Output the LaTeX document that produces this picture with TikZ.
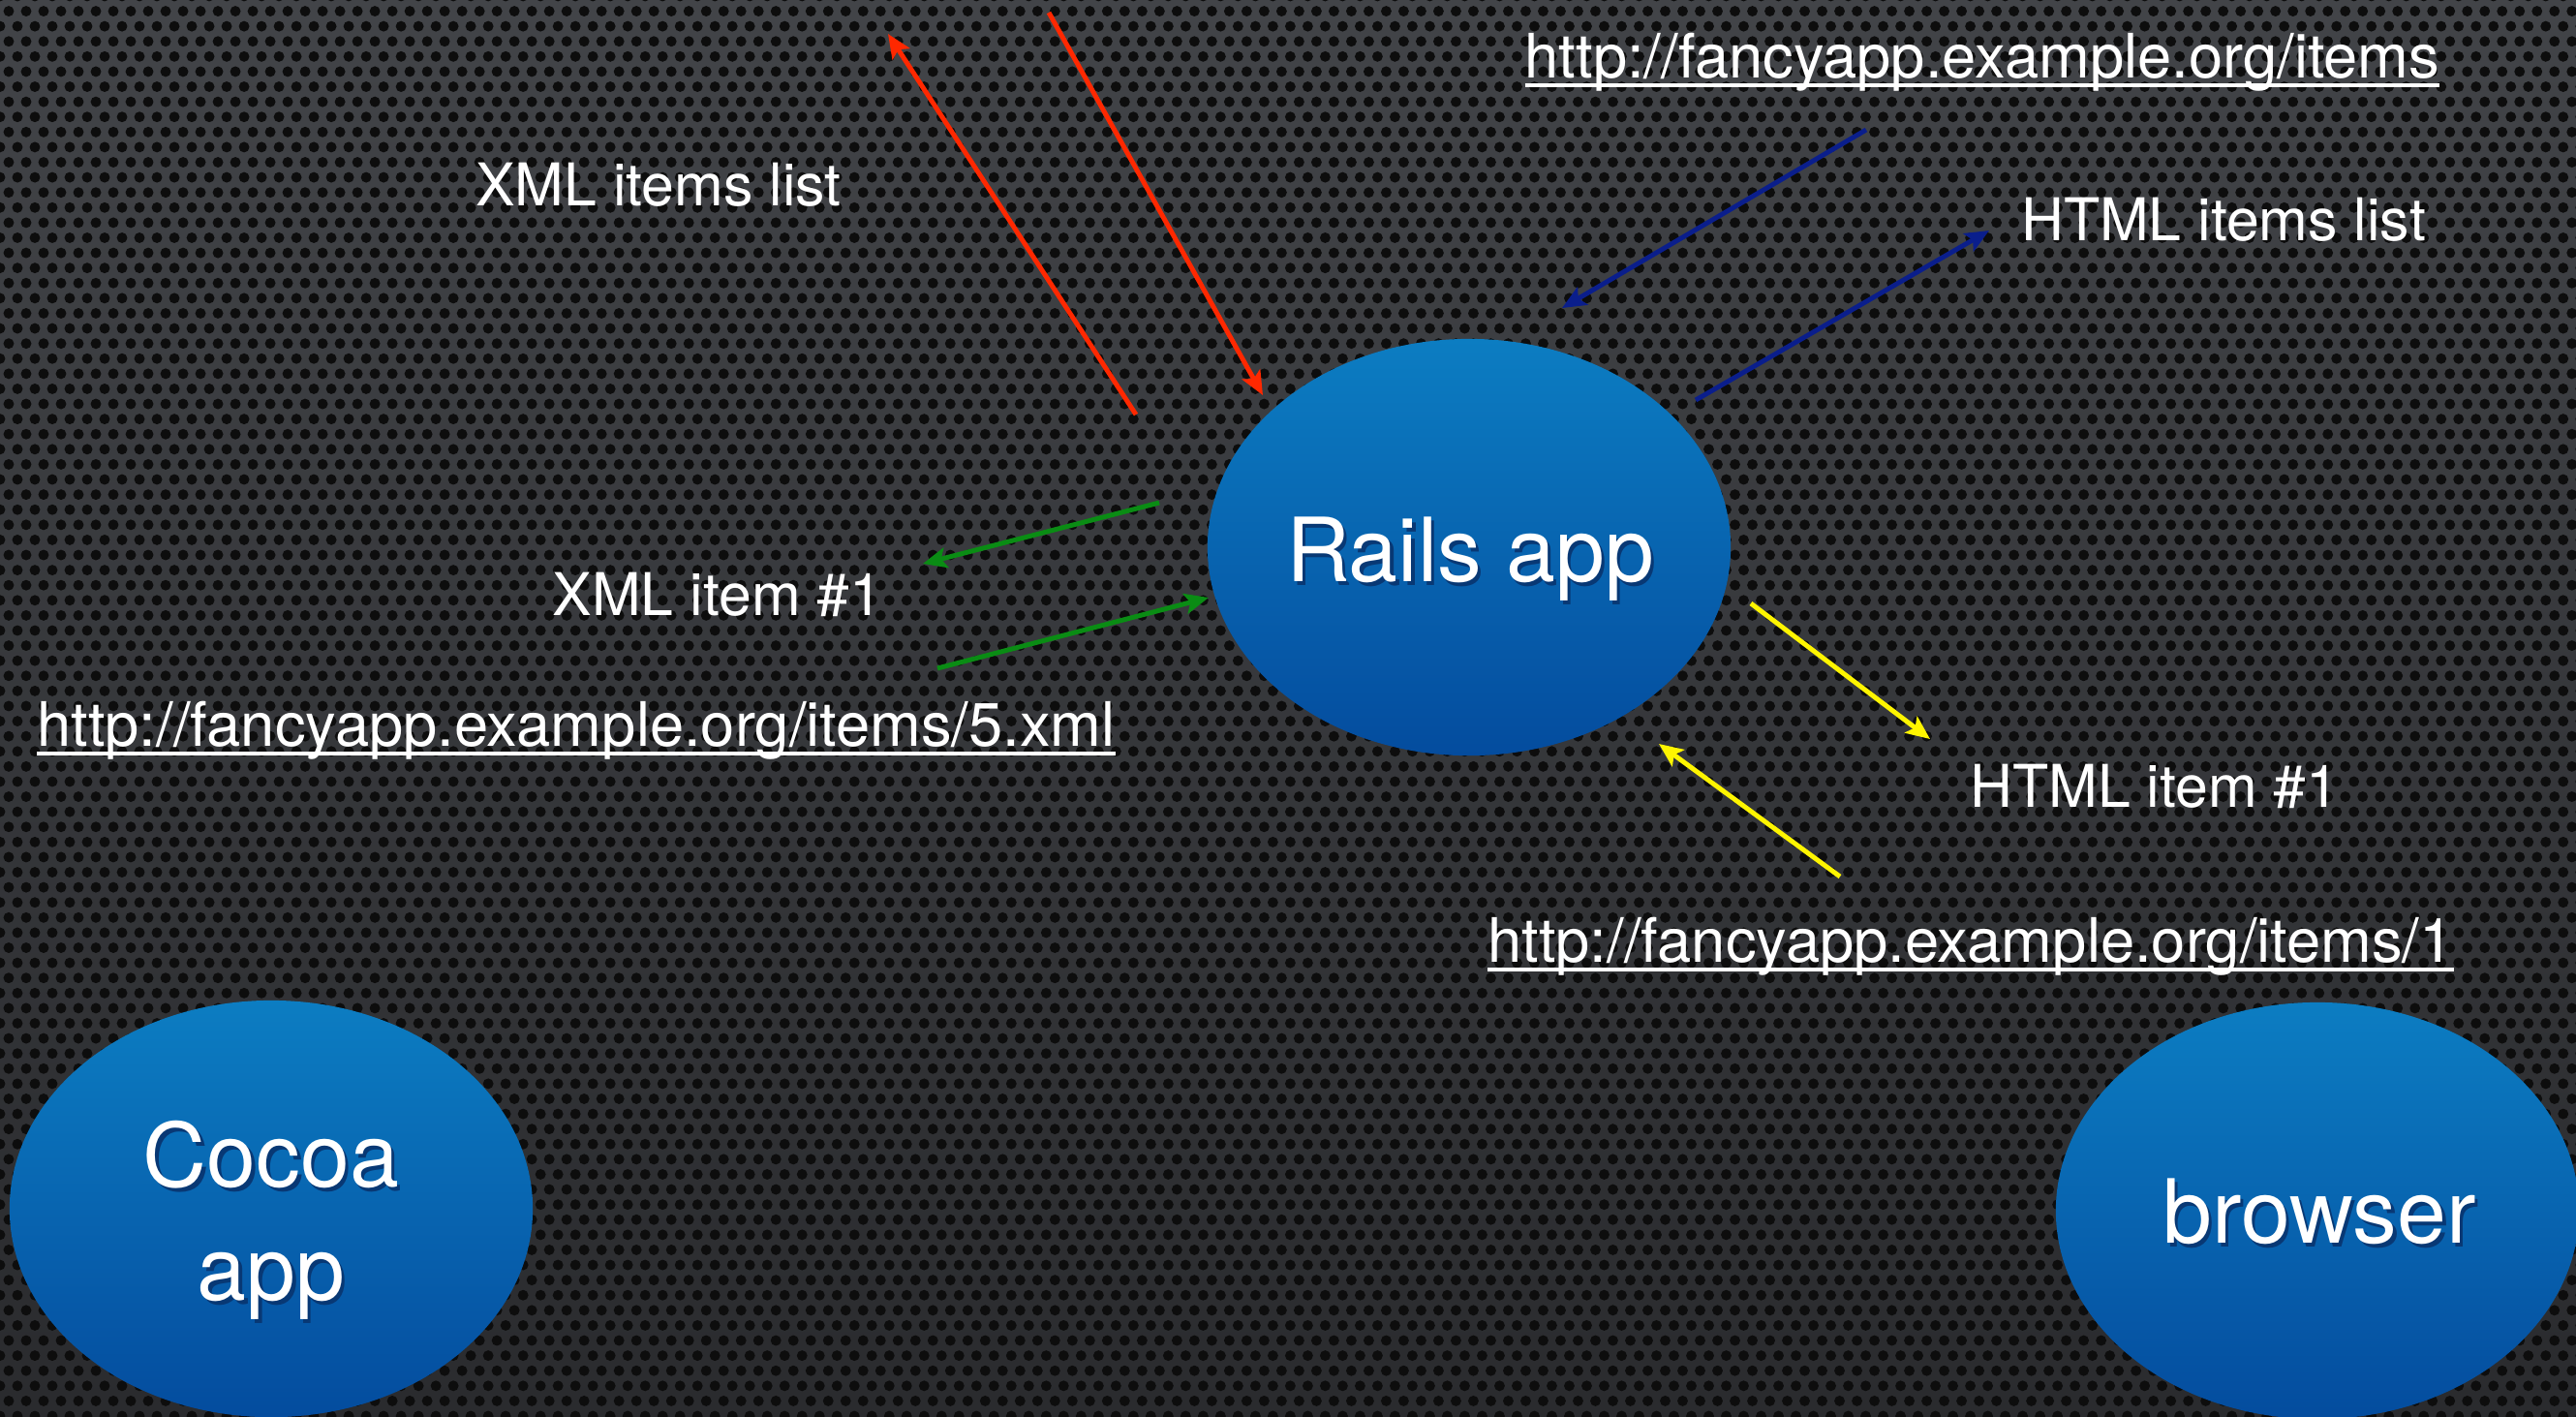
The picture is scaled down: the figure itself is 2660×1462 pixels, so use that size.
\documentclass[tikz,border=0pt]{standalone}
\usepackage{fontspec}
\setmainfont{TeX Gyre Heros}
\usetikzlibrary{arrows.meta,shapes.geometric,patterns}
\definecolor{bgtop}{RGB}{66,68,72}
\definecolor{bgbot}{RGB}{42,43,46}
\definecolor{blobtop}{RGB}{12,125,194}
\definecolor{blobbot}{RGB}{4,76,158}
\definecolor{txtshadow}{RGB}{8,56,116}
\definecolor{arrred}{RGB}{255,40,0}
\definecolor{arrblue}{RGB}{10,30,140}
\definecolor{arrgreen}{RGB}{10,140,20}
\definecolor{arryellow}{RGB}{255,245,0}
\pgfdeclarepatternformonly{holes}{\pgfqpoint{-2pt}{-2pt}}{\pgfqpoint{5pt}{7pt}}{\pgfqpoint{5.12pt}{8.87pt}}{%
  \pgfpathcircle{\pgfqpoint{0pt}{0pt}}{1.55pt}%
  \pgfpathcircle{\pgfqpoint{2.56pt}{4.435pt}}{1.55pt}%
  \pgfusepath{fill}%
}
\newsavebox\ulbox
\newcommand\ulink[1]{\sbox\ulbox{#1}\rlap{\rule[-2.8pt]{\wd\ulbox}{1pt}}\usebox\ulbox}
\newcommand\shtext[1]{\makebox[0pt][l]{\kern1pt\raisebox{-1.2pt}{\textcolor{txtshadow}{#1}}}#1}
\begin{document}
\begin{tikzpicture}[x=0.01cm,y=-0.01cm,
  blob/.style={ellipse,minimum width=5.4cm,minimum height=4.3cm,inner sep=0pt,
    top color=blobtop,bottom color=blobbot,draw=none},
  bigtxt/.style={anchor=base,inner sep=0pt,text=white,font=\fontsize{26}{30}\selectfont},
  lbl/.style={anchor=base,inner sep=0pt,text=white,font=\fontsize{17.3}{20}\selectfont},
  url/.style={anchor=base,inner sep=0pt,text=white,font=\fontsize{18}{21}\selectfont},
  flow/.style={line width=1.4pt,-{Stealth[length=7pt,width=6pt,inset=1.5pt]}}]
\useasboundingbox (0,0) rectangle (2660,1462);
% background
\fill[top color=bgtop,bottom color=bgbot] (0,0) rectangle (2660,1462);
\fill[pattern=holes,pattern color=black!95] (0,0) rectangle (2660,1462);
% ellipses
\node[blob] (rails) at (1517,565) {};
\node[blob] (cocoa) at (280,1248) {};
\node[blob] (browser) at (2393,1250) {};
\node[bigtxt] (railslbl) at (1518,600) {\shtext{Rails app}};
\node[bigtxt] (cocoalbl) at (280,1225) {\shtext{Cocoa}};
\node[bigtxt] (cocoalbltwo) at (280,1342) {\shtext{app}};
\node[bigtxt] (browserlbl) at (2395,1283) {\shtext{browser}};
% labels
\node[lbl] (xmllist) at (680,212) {XML items list};
\node[url] (urlitems) at (2047,80) {\ulink{http://fancyapp.example.org/items}};
\node[lbl] (htmllist) at (2296,248) {HTML items list};
\node[lbl] (xmlitem) at (741,635) {XML item \#1};
\node[url] (urlxml) at (595,770) {\ulink{http://fancyapp.example.org/items/5.xml}};
\node[lbl] (htmlitem) at (2225,833) {HTML item \#1};
\node[url] (urlone) at (2035,993) {\ulink{http://fancyapp.example.org/items/1}};
% arrow end points
\coordinate (redAs) at (1173,428); \coordinate (redAe) at (917,35);
\coordinate (redBs) at (1083,13);  \coordinate (redBe) at (1304,408);
\coordinate (bluAs) at (1927,134); \coordinate (bluAe) at (1613,318);
\coordinate (bluBs) at (1751,413); \coordinate (bluBe) at (2054,238);
\coordinate (grnAs) at (1197,519); \coordinate (grnAe) at (953,582);
\coordinate (grnBs) at (968,690);  \coordinate (grnBe) at (1248,617);
\coordinate (yelAs) at (1808,623); \coordinate (yelAe) at (1993,763);
\coordinate (yelBs) at (1900,905); \coordinate (yelBe) at (1713,768);
% arrows
\draw[flow,arrred] (redAs) -- (redAe);
\draw[flow,arrred] (redBs) -- (redBe);
\draw[flow,arrblue] (bluAs) -- (bluAe);
\draw[flow,arrblue] (bluBs) -- (bluBe);
\draw[flow,arrgreen] (grnAs) -- (grnAe);
\draw[flow,arrgreen] (grnBs) -- (grnBe);
\draw[flow,arryellow] (yelAs) -- (yelAe);
\draw[flow,arryellow] (yelBs) -- (yelBe);
\end{tikzpicture}
\end{document}
